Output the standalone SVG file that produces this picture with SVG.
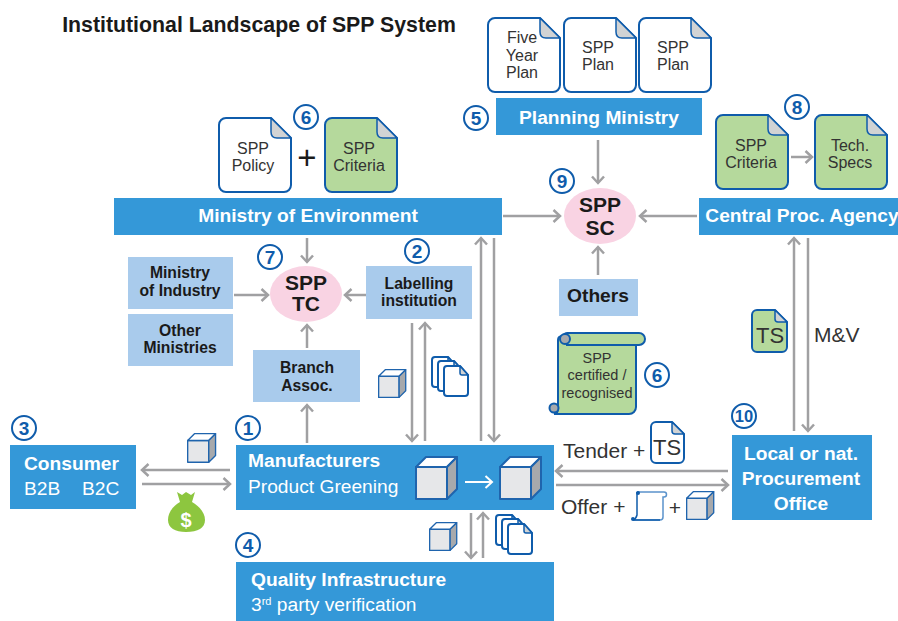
<svg xmlns="http://www.w3.org/2000/svg" width="898" height="621" viewBox="0 0 898 621">
<style>
text{font-family:"Liberation Sans",Arial,sans-serif;text-anchor:middle}
.t{fill:#333;font-size:16px}
.w{fill:#fff;font-weight:bold;font-size:19.200px}
.wl{fill:#fff;font-size:19.200px;text-anchor:start}
.wb{fill:#fff;font-weight:bold;font-size:19.200px;text-anchor:start}
.d{fill:#1a1a1a;font-weight:bold;font-size:15.700px}
.blue{fill:#3498d8}
.light{fill:#a9cbec}
.pink{fill:#f9d3e3}
.big{fill:#1a1a1a;font-weight:bold;font-size:21px}
.n{fill:#fff;stroke:#0f5cab;stroke-width:2}
.num{fill:#0f5cab;font-weight:bold;font-size:19px}
.lab{fill:#333;font-size:21px;text-anchor:start}
.doc{stroke:#0f5cab;stroke-width:2;stroke-linejoin:round}
.fold{fill:#d1d3d4;stroke:#0f5cab;stroke-width:1.500;stroke-linejoin:round}
.con line{stroke:#a0a0a2;stroke-width:2.500;marker-end:url(#a);fill:none}
</style>
<defs>
<marker id="a" markerWidth="12" markerHeight="14" refX="9.500" refY="7" orient="auto" markerUnits="userSpaceOnUse"><path d="M3,1 L9.500,7 L3,13" fill="none" stroke="#a0a0a2" stroke-width="2.500"/></marker>
<marker id="aw" markerWidth="12" markerHeight="14" refX="9.500" refY="7" orient="auto" markerUnits="userSpaceOnUse"><path d="M3,1 L9.500,7 L3,13" fill="none" stroke="#fff" stroke-width="2"/></marker>
<g id="doc"><path class="doc" d="M7,0H52L72,20V67a7,7 0 0 1-7,7H7a7,7 0 0 1-7-7V7a7,7 0 0 1 7-7Z"/><path class="fold" d="M52,0L72,20H58Q52,20 52,14Z"/></g>
<g id="mini"><path class="doc" fill="#fff" d="M4,0H17L25,9V27a3,3 0 0 1-3,3H4a3,3 0 0 1-3-3V3a3,3 0 0 1 3-3Z"/><path class="fold" d="M17,0L25,9H19Q17,9 17,7Z" stroke-width="1"/></g>
<g id="cube" stroke="#1f64ad" stroke-width="2" stroke-linejoin="round"><path d="M1,11H32V43H1Z" fill="#e6e7e9"/><path d="M1,11L11,1H42L32,11Z" fill="#fff"/><path d="M32,11L42,1V33L32,43Z" fill="#a7a9ac"/></g>
</defs>

<text x="259" y="32" font-size="21.300" font-weight="bold" fill="#1a1a1a">Institutional Landscape of SPP System</text>

<g id="connectors" class="con">
<line x1="598" y1="140" x2="598" y2="183"/>
<line x1="503" y1="216" x2="560" y2="216"/>
<line x1="697" y1="216" x2="640" y2="216"/>
<line x1="598" y1="275" x2="598" y2="247"/>
<line x1="307" y1="238" x2="307" y2="262"/>
<line x1="234" y1="295" x2="268" y2="295"/>
<line x1="366" y1="295" x2="345" y2="295"/>
<line x1="307" y1="348" x2="307" y2="325"/>
<line x1="307" y1="443" x2="307" y2="405"/>
<line x1="412" y1="323" x2="412" y2="441"/>
<line x1="425" y1="441" x2="425" y2="323"/>
<line x1="481" y1="441" x2="481" y2="238"/>
<line x1="494" y1="238" x2="494" y2="441"/>
<line x1="794" y1="431" x2="794" y2="238"/>
<line x1="808" y1="238" x2="808" y2="431"/>
<line x1="230" y1="470" x2="142" y2="470"/>
<line x1="142" y1="484" x2="230" y2="484"/>
<line x1="471" y1="513" x2="471" y2="558"/>
<line x1="483" y1="558" x2="483" y2="513"/>
<line x1="728" y1="471" x2="556" y2="471"/>
<line x1="556" y1="485" x2="728" y2="485"/>
<line x1="791" y1="157" x2="812" y2="157"/>
</g>

<g id="doc-five-year"><use href="#doc" x="488" y="18" fill="#fff"/><text class="t" x="522" y="43">Five</text><text class="t" x="522" y="61">Year</text><text class="t" x="522" y="78">Plan</text></g>
<g id="doc-spp-plan-1"><use href="#doc" x="564" y="18" fill="#fff"/><text class="t" x="598" y="53">SPP</text><text class="t" x="598" y="70">Plan</text></g>
<g id="doc-spp-plan-2"><use href="#doc" x="639" y="18" fill="#fff"/><text class="t" x="673" y="53">SPP</text><text class="t" x="673" y="70">Plan</text></g>
<g id="planning-ministry"><rect class="blue" x="496" y="98" width="206" height="37"/><text class="w" x="599" y="124">Planning Ministry</text></g>

<g id="doc-spp-policy"><use href="#doc" x="219" y="118" fill="#fff"/><text class="t" x="253" y="154">SPP</text><text class="t" x="253" y="171">Policy</text></g>
<text x="307" y="169" font-size="33" fill="#1a1a1a">+</text>
<g id="doc-spp-criteria-1"><use href="#doc" x="325" y="118" fill="#b5d99c"/><text class="t" x="359" y="154">SPP</text><text class="t" x="359" y="171">Criteria</text></g>
<g id="doc-spp-criteria-2"><use href="#doc" x="716" y="115" fill="#b5d99c"/><text class="t" x="751" y="151">SPP</text><text class="t" x="751" y="168">Criteria</text></g>
<g id="doc-tech-specs"><use href="#doc" x="815" y="115" fill="#b5d99c"/><text class="t" x="850" y="151">Tech.</text><text class="t" x="850" y="168">Specs</text></g>

<g id="ministry-env"><rect class="blue" x="114" y="198" width="388" height="37"/><text class="w" x="308" y="222">Ministry of Environment</text></g>
<g id="central-proc"><rect class="blue" x="699" y="198" width="199" height="37"/><text class="w" x="802" y="222">Central Proc. Agency</text></g>
<g id="spp-sc"><ellipse class="pink" cx="600" cy="216" rx="36" ry="28"/><text class="big" x="600" y="212">SPP</text><text class="big" x="600" y="235">SC</text></g>
<g id="spp-tc"><ellipse class="pink" cx="306" cy="294" rx="36" ry="28"/><text class="big" x="306" y="290">SPP</text><text class="big" x="306" y="311">TC</text></g>
<g id="ministry-industry"><rect class="light" x="128" y="257" width="105" height="52"/><text class="d" x="180" y="278">Ministry</text><text class="d" x="180" y="296">of Industry</text></g>
<g id="other-ministries"><rect class="light" x="128" y="314" width="105" height="52"/><text class="d" x="180" y="336">Other</text><text class="d" x="180" y="353">Ministries</text></g>
<g id="labelling"><rect class="light" x="366" y="266" width="106" height="53"/><text class="d" x="419" y="289">Labelling</text><text class="d" x="419" y="306">institution</text></g>
<g id="branch-assoc"><rect class="light" x="253" y="350" width="107" height="52"/><text class="d" x="307" y="373">Branch</text><text class="d" x="307" y="391">Assoc.</text></g>
<g id="others"><rect class="light" x="559" y="279" width="79" height="37"/><text x="598" y="302" font-size="19.200" font-weight="bold" fill="#1a1a1a">Others</text></g>

<g id="certificate">
<path d="M563,336a5,5 0 0 1 5-3H639a6,6 0 0 1 0,12H636V407a7,7 0 0 1-7,7H554a5,5 0 0 0 4-5V340Q558,336 563,336Z" fill="#b5d99c" stroke="#0f5cab" stroke-width="2"/>
<circle cx="565" cy="339" r="5" fill="#a7a9ac" stroke="#0f5cab" stroke-width="2"/>
<circle cx="554" cy="408" r="4.500" fill="#a7a9ac" stroke="#0f5cab" stroke-width="2"/>
<path d="M566,345H636" stroke="#0f5cab" stroke-width="2" fill="none"/>
<text x="597" y="363" font-size="14.500" fill="#333">SPP</text><text x="597" y="380" font-size="14.500" fill="#333">certified /</text><text x="597" y="398" font-size="14.500" fill="#333">recognised</text>
</g>

<g id="doc-ts"><path class="doc" fill="#b5d99c" d="M757,310H775L787,322V347a5,5 0 0 1-5,5H757a5,5 0 0 1-5-5V315a5,5 0 0 1 5-5Z"/><path class="fold" d="M775,310L787,322H778Q775,322 775,319Z"/><text x="770" y="343" font-size="22" fill="#333">TS</text></g>
<text class="lab" x="814" y="342">M&amp;V</text>

<g id="consumer"><rect class="blue" x="10" y="445" width="126" height="64"/><text class="wb" x="24" y="470">Consumer</text><text class="wl" x="24" y="495">B2B</text><text class="wl" x="82" y="495">B2C</text></g>
<g id="manufacturers"><rect class="blue" x="236" y="445" width="318" height="65"/><text class="wb" x="248" y="467">Manufacturers</text><text class="wl" x="248" y="493">Product Greening</text>
<use href="#cube" x="415" y="456"/><use href="#cube" x="499" y="456"/>
<line x1="465" y1="482" x2="492" y2="482" stroke="#fff" stroke-width="2" marker-end="url(#aw)"/></g>
<g id="quality-infra"><rect class="blue" x="236" y="562" width="318" height="59"/><text class="wb" x="251" y="586">Quality Infrastructure</text><text class="wl" x="251" y="611">3<tspan font-size="11" dy="-6">rd</tspan><tspan dy="6"> party verification</tspan></text></g>
<g id="procurement"><rect class="blue" x="732" y="435" width="140" height="85"/><text class="w" x="801" y="460">Local or nat.</text><text class="w" x="801" y="485">Procurement</text><text class="w" x="801" y="510">Office</text></g>

<g id="cube-consumer" transform="translate(187,433) scale(.68)"><use href="#cube"/></g>
<g id="cube-label" transform="translate(378,369) scale(.66)"><use href="#cube"/></g>
<g id="cube-qi" transform="translate(429,522) scale(.66)"><use href="#cube"/></g>
<g id="cube-offer" transform="translate(686,491) scale(.66)"><use href="#cube"/></g>
<g id="docs-label"><use href="#mini" x="431" y="357"/><use href="#mini" x="437" y="361"/><use href="#mini" x="443" y="366"/></g>
<g id="docs-qi"><use href="#mini" x="495" y="515"/><use href="#mini" x="501" y="519"/><use href="#mini" x="507" y="524"/></g>

<g id="money"><path d="M177,492L182,495L186,492L191,495L195,492L192,502H180Z" fill="#8dc63f"/><path d="M180,502H192C200,507 205,513 205,520C205,528 198,532 186,532C175,532 168,528 168,520C168,513 172,507 180,502Z" fill="#8dc63f"/><text x="186" y="527" font-size="20" font-weight="bold" fill="#fff">$</text></g>

<text class="lab" x="563" y="458">Tender +</text>
<g id="doc-tender"><path class="doc" fill="#fff" d="M656,422H672L684,434V458a5,5 0 0 1-5,5H656a5,5 0 0 1-5-5V427a5,5 0 0 1 5-5Z"/><path class="fold" d="M672,422L684,434H675Q672,434 672,431Z"/><text x="667" y="455" font-size="22" fill="#333">TS</text></g>
<text class="lab" x="561" y="514">Offer +</text>
<g id="scroll-offer"><path d="M637,492H664a2.500,2.500 0 0 1 0,5H663V517a3,3 0 0 1-3,3H634" fill="#fff" stroke="#5b93cc" stroke-width="1.500"/><path d="M637,492V515Q636,519 633,520H660" fill="none" stroke="#0f5cab" stroke-width="1.500"/><circle cx="638" cy="493" r="2" fill="#0f5cab"/><circle cx="633" cy="519" r="2" fill="#0f5cab"/></g>
<text x="675" y="515" font-size="21" fill="#333">+</text>

<g id="num-6a"><circle class="n" cx="306" cy="117" r="12"/><text class="num" x="306" y="124">6</text></g>
<g id="num-5"><circle class="n" cx="476" cy="118" r="12"/><text class="num" x="476" y="125">5</text></g>
<g id="num-8"><circle class="n" cx="797" cy="107" r="12"/><text class="num" x="797" y="114">8</text></g>
<g id="num-9"><circle class="n" cx="562" cy="181" r="12"/><text class="num" x="562" y="188">9</text></g>
<g id="num-2"><circle class="n" cx="417" cy="251" r="12"/><text class="num" x="417" y="258">2</text></g>
<g id="num-7"><circle class="n" cx="270" cy="257" r="12"/><text class="num" x="270" y="264">7</text></g>
<g id="num-6b"><circle class="n" cx="657" cy="375" r="12"/><text class="num" x="657" y="382">6</text></g>
<g id="num-10"><circle class="n" cx="744" cy="416" r="12"/><text class="num" x="744" y="422" style="font-size:16.500px">10</text></g>
<g id="num-3"><circle class="n" cx="24" cy="428" r="12"/><text class="num" x="24" y="435">3</text></g>
<g id="num-1"><circle class="n" cx="248" cy="428" r="12"/><text class="num" x="248" y="435">1</text></g>
<g id="num-4"><circle class="n" cx="248" cy="545" r="12"/><text class="num" x="248" y="552">4</text></g>
</svg>
